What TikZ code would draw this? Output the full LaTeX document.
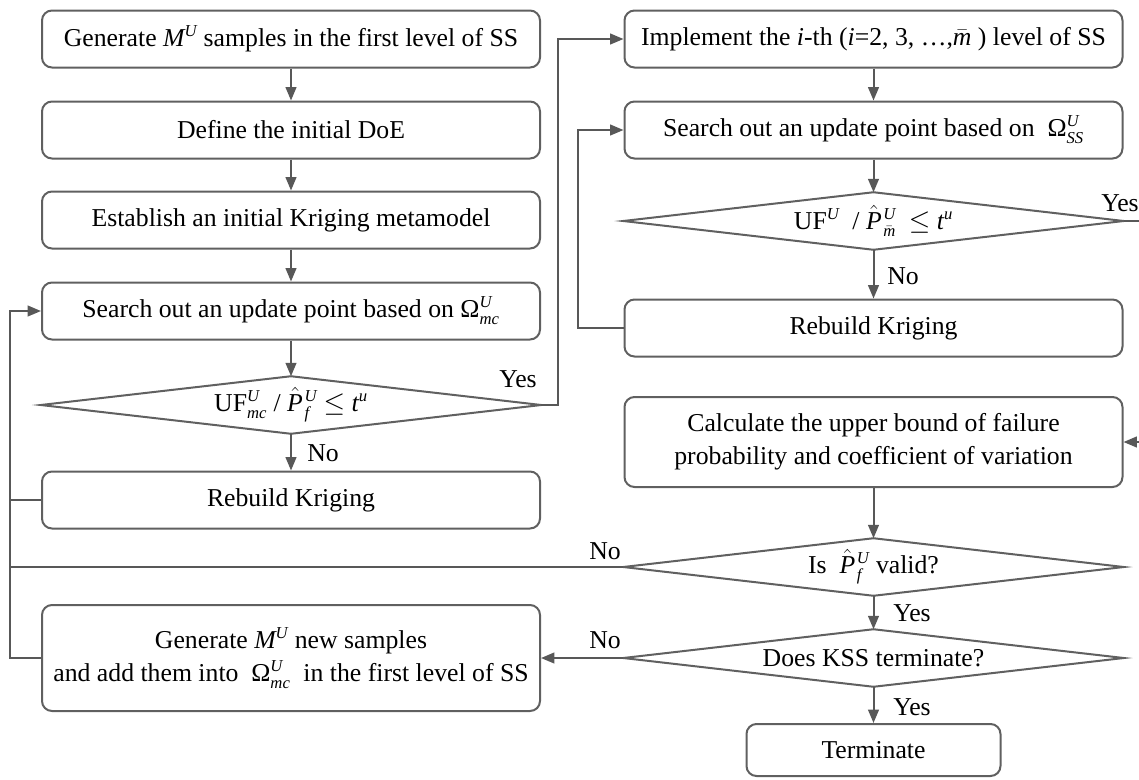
\documentclass[tikz,border=0pt]{standalone}
\usepackage{fontspec}
\setmainfont{Liberation Serif}
\usetikzlibrary{arrows.meta}
\definecolor{edge}{RGB}{88,88,88}
\definecolor{frame}{RGB}{96,96,96}
% small italic script text and italic variables set in the text font
\newcommand\scr[1]{\hbox{\fontsize{12.5}{13}\selectfont\itshape #1}}
\newcommand\ivar[1]{\hbox{\itshape #1}}
\newcommand\mbarsub{\hbox{\fontsize{12.5}{13}\selectfont$\bar{\ivar{m}}$}}
\newcommand\phat{\hat{\ivar{P}}\kern1.2pt}
\tikzset{
  txt/.style={font=\fontsize{19.3}{24.5}\selectfont},
  stepbox/.style={txt, draw=frame, line width=1.5pt, rounded corners=7.5pt, fill=white,
    minimum width=373.5pt, minimum height=42.75pt, align=center, inner sep=0pt},
  decision/.style={txt, minimum width=375pt, minimum height=42.75pt, inner sep=0pt},
  frameline/.style={draw=frame, line width=1.5pt, line join=miter},
  link/.style={draw=edge, line width=1.5pt},
  flow/.style={link, -{Triangle[length=10pt,width=8pt]}},
  tag/.style={txt, inner sep=0pt}
}
\begin{document}
\begin{tikzpicture}[x=0.75pt,y=-0.75pt]
\useasboundingbox (0,0) rectangle (1139,779);
\clip (0,0) rectangle (1139,779);

% left column
\node[stepbox] (l1) at (291,39) {Generate $\ivar{M}^{\scr{U}}$ samples in the first level of SS};
\node[stepbox] (l2) at (291,130) {Define the initial DoE};
\node[stepbox] (l3) at (291,220) {Establish an initial Kriging metamodel};
\node[stepbox] (l4) at (291,311) {Search out an update point based on $\hbox{Ω}^{\scr{U}}_{\scr{mc}}$};
\node[decision] (dl) at (291,405) {UF$^{\scr{U}}_{\scr{mc}}$ / $\phat{}^{\scr{U}}_{\scr{f}}$ $\le$ $\ivar{t}^{\scr{u}}$};
\node[stepbox] (rbl) at (291,500) {Rebuild Kriging};
\node[stepbox, minimum height=79.5pt] (gen) at (291,658)
  {Generate $\ivar{M}^{\scr{U}}$ new samples\\and add them into \ $\hbox{Ω}^{\scr{U}}_{\scr{mc}}$ \ in the first level of SS};

% right column
\node[stepbox] (r1) at (873.5,39) {Implement the \textit{i}-th (\textit{i}=2, 3, …,$\bar{\ivar{m}}$ ) level of SS};
\node[stepbox] (r2) at (873.5,130) {Search out an update point based on \ $\hbox{Ω}^{\scr{U}}_{\scr{SS}}$};
\node[decision] (dr) at (873.5,221) {UF$^{\scr{U}}$ \ / $\phat{}^{\scr{U}}_{\mbarsub}$ \ $\le$ $\ivar{t}^{\scr{u}}$};
\node[stepbox] (rbr) at (873.5,328) {Rebuild Kriging};
\node[stepbox, minimum height=67.5pt] (calc) at (873.5,442)
  {Calculate the upper bound of failure\\probability and coefficient of variation};
\node[decision] (dv) at (873.5,567) {Is \ $\phat{}^{\scr{U}}_{\scr{f}}$ valid?};
\node[decision] (dt) at (873.5,658) {Does KSS terminate?};
\node[stepbox, minimum width=190.5pt, minimum height=39pt] (term) at (873.5,750) {Terminate};

% diamond outlines
\foreach \d in {dl,dr,dv,dt}
  \draw[frameline] (\d.west) -- (\d.north) -- (\d.east) -- (\d.south) -- cycle;

% routing columns
\coordinate (lx) at (10,0);
\coordinate (yx) at (558,0);
\coordinate (rx) at (578,0);
\coordinate (ex) at (1170,0);

% left column flow
\draw[flow] (l1.south) -- (l2.north);
\draw[flow] (l2.south) -- (l3.north);
\draw[flow] (l3.south) -- (l4.north);
\draw[flow] (l4.south) -- (dl.north);
\draw[flow] (dl.south) -- (rbl.north);
\draw[link] (rbl.west) -- (rbl.west -| lx);
\draw[link] (dv.west) -- (dv.west -| lx);
\draw[flow] (gen.west) -- (gen.west -| lx) -- (l4.west -| lx) -- (l4.west);
\draw[flow] (dl.east) -- (dl.east -| yx) -- (r1.west -| yx) -- (r1.west);

% right column flow
\draw[flow] (r1.south) -- (r2.north);
\draw[flow] (r2.south) -- (dr.north);
\draw[flow] (dr.south) -- (rbr.north);
\draw[flow] (rbr.west) -- (rbr.west -| rx) -- (r2.west -| rx) -- (r2.west);
\draw[flow] (dr.east) -- (dr.east -| ex) -- (calc.east -| ex) -- (calc.east);
\draw[flow] (calc.south) -- (dv.north);
\draw[flow] (dv.south) -- (dt.north);
\draw[flow] (dt.west) -- (gen.east);
\draw[flow] (dt.south) -- (term.north);

% branch labels
\node[tag] (yes1) at (518,379) {Yes};
\node[tag] (no1) at (323,453) {No};
\node[tag] (yes2) at (1120,203) {Yes};
\node[tag] (no2) at (903,276) {No};
\node[tag] (no3) at (605,551) {No};
\node[tag] (yes3) at (912,613) {Yes};
\node[tag] (no4) at (605,640) {No};
\node[tag] (yes4) at (912,707) {Yes};
\end{tikzpicture}
\end{document}
